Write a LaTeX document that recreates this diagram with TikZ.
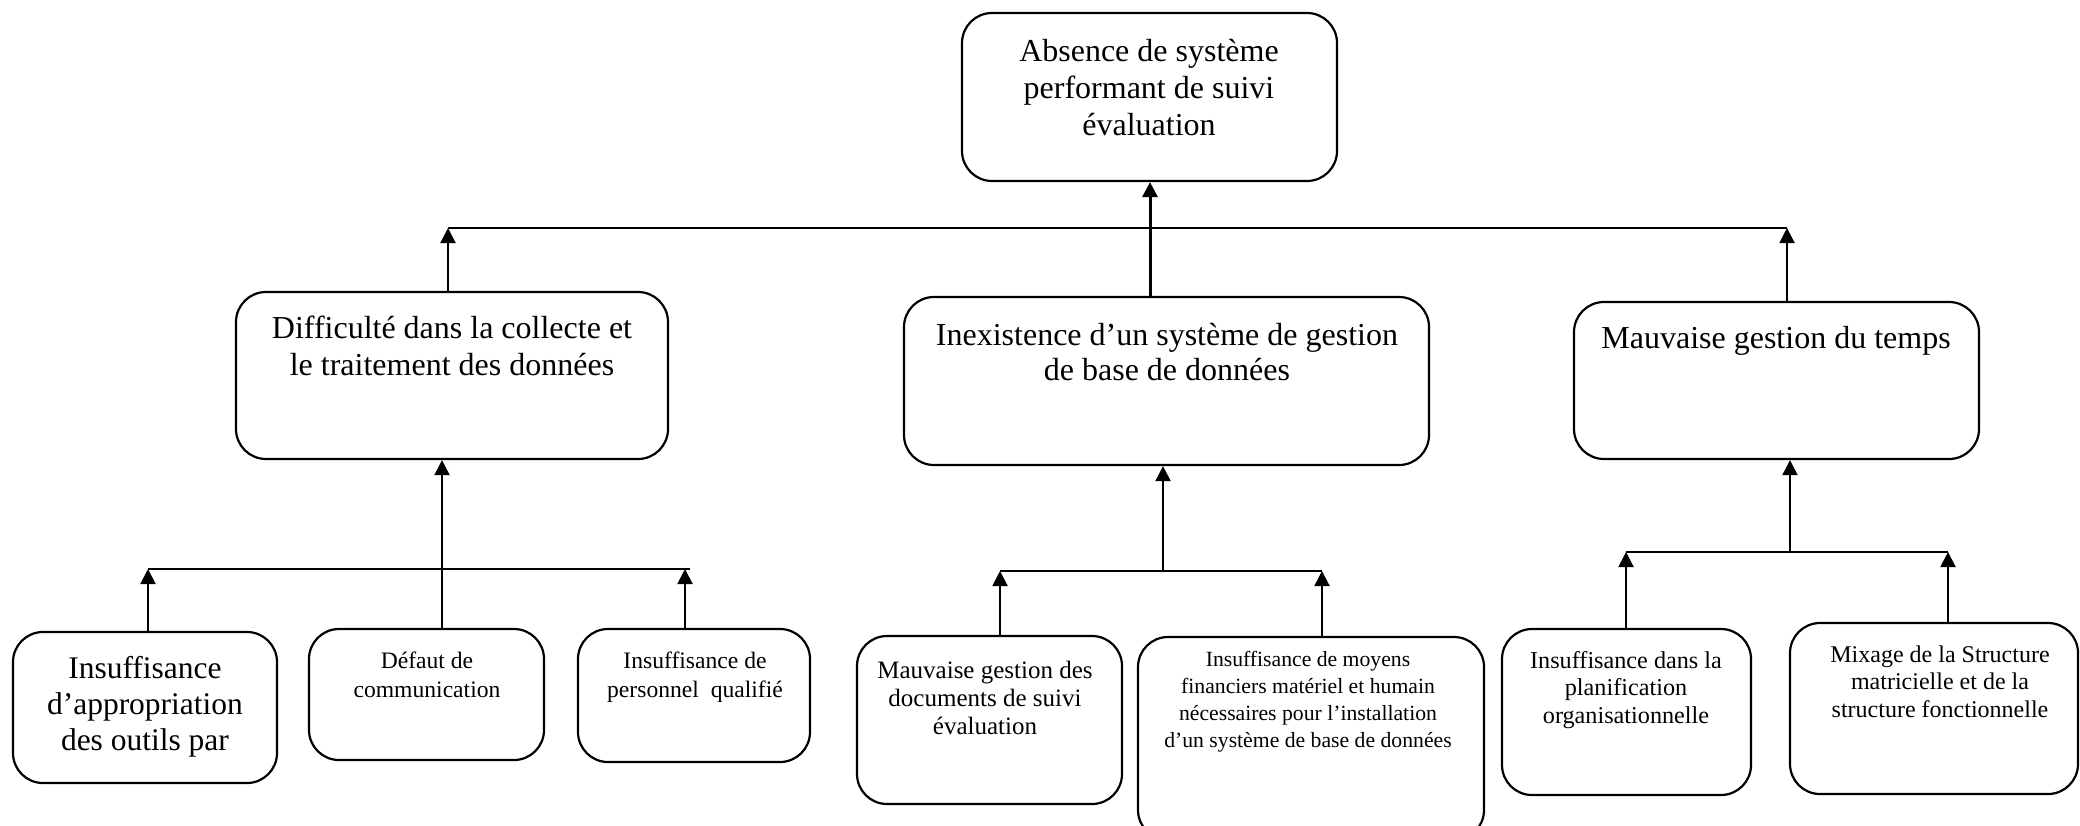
\documentclass[tikz,border=0pt]{standalone}
\usepackage{fontspec}
\setmainfont{Liberation Serif}
\usetikzlibrary{arrows.meta}

% centred block of lines whose first baseline is the node's base
\newcommand{\boxlines}[3]{\parbox[t]{320pt}{\centering\fontsize{#1}{#2}\selectfont #3}}

\tikzset{
  box/.style={draw, line width=1.1pt, rounded corners=15pt, inner sep=0pt},
  txt/.style={anchor=base, inner sep=0pt},
  link/.style={line width=1pt},
  arr/.style={line width=1pt, -{Triangle[length=7.5pt,width=7.5pt]}},
}

\begin{document}
\begin{tikzpicture}[x=0.5pt, y=-0.5pt]
\useasboundingbox (0,0) rectangle (2080,825);
\clip (0,0) rectangle (2080,825);
\fill[white] (0,0) rectangle (2080,825);

% ---- boxes ----
\node[box, minimum width=187.5pt, minimum height=84pt]   (top)   at (1149.5,97)  {};
\node[box, minimum width=216pt,   minimum height=83.5pt] (dif)   at (452,375.5)  {};
\node[box, minimum width=262.5pt, minimum height=84pt]   (inex)  at (1166.5,381) {};
\node[box, minimum width=202.5pt, minimum height=78.5pt] (temps) at (1776.5,380.5) {};
\node[box, minimum width=132pt,   minimum height=75.5pt] (app)   at (145,707.5)  {};
\node[box, minimum width=117.5pt, minimum height=65.5pt] (def)   at (426.5,694.5) {};
\node[box, minimum width=116pt,   minimum height=66.5pt] (pers)  at (694,695.5)  {};
\node[box, minimum width=132.5pt, minimum height=84pt]   (doc)   at (989.5,720)  {};
\node[box, minimum width=173pt,   minimum height=101.5pt] (moy)  at (1311,738.5) {};
\node[box, minimum width=124.5pt, minimum height=83pt]   (plan)  at (1626.5,712) {};
\node[box, minimum width=144pt,   minimum height=85.5pt] (mix)   at (1934,708.5) {};

% ---- texts ----
\node[txt] (top-t)   at (1149,61)  {\boxlines{16pt}{18.5pt}{Absence de système\\performant de suivi\\évaluation}};
\node[txt] (dif-t)   at (452,338)  {\boxlines{16pt}{18.5pt}{Difficulté dans la collecte et\\le traitement des données}};
\node[txt] (inex-t)  at (1167,345) {\boxlines{16pt}{17.5pt}{Inexistence d’un système de gestion\\de base de données}};
\node[txt] (temps-t) at (1776,348) {\boxlines{16pt}{18.5pt}{Mauvaise gestion du temps}};
\node[txt] (app-t)   at (145,678)  {\boxlines{15.75pt}{18pt}{Insuffisance\\d’appropriation\\des outils par}};
\node[txt] (def-t)   at (427,668)  {\boxlines{11.8pt}{14.5pt}{Défaut de\\communication}};
\node[txt] (pers-t)  at (695,668)  {\boxlines{11.8pt}{14.5pt}{Insuffisance de\\personnel~ qualifié}};
\node[txt] (doc-t)   at (985,678)  {\boxlines{12.5pt}{14pt}{Mauvaise gestion des\\documents de suivi\\évaluation}};
\node[txt] (moy-t)   at (1308,666) {\boxlines{10.85pt}{13.5pt}{Insuffisance de moyens\\financiers matériel et humain\\nécessaires pour l’installation\\d’un système de base de données}};
\node[txt] (plan-t)  at (1626,668) {\boxlines{12.1pt}{13.75pt}{Insuffisance dans la\\planification\\organisationnelle}};
\node[txt] (mix-t)   at (1940,662) {\boxlines{12pt}{13.75pt}{Mixage de la Structure\\matricielle et de la\\structure fonctionnelle}};

% ---- top level connectors ----
\coordinate (busA-l) at (448,228);
\coordinate (busA-r) at (1787,228);
\coordinate (stemA)  at (1150,228);
\draw[link] (busA-l) -- (busA-r);
\draw[arr] (dif.north -| busA-l) -- (busA-l);
\draw[arr] (temps.north -| busA-r) -- (busA-r);
\draw[arr, line width=1.5pt] (inex.north -| stemA) -- (top.south -| stemA);

% ---- left group ----
\coordinate (busB-l) at (148,569);
\coordinate (busB-r) at (690,569);
\coordinate (busB-p) at (685,569);
\coordinate (busB-m) at (442,569);
\draw[link] (busB-l) -- (busB-r);
\draw[arr] (app.north -| busB-l) -- (busB-l);
\draw[arr] (pers.north -| busB-p) -- (busB-p);
\draw[arr] (def.north -| busB-m) -- (dif.south -| busB-m);

% ---- middle group ----
\coordinate (busC-l) at (1000,571);
\coordinate (busC-r) at (1322,571);
\coordinate (busC-m) at (1163,571);
\draw[link] (busC-l) -- (busC-r);
\draw[arr] (doc.north -| busC-l) -- (busC-l);
\draw[arr] (moy.north -| busC-r) -- (busC-r);
\draw[arr] (busC-m) -- (inex.south -| busC-m);

% ---- right group ----
\coordinate (busD-l) at (1626,552);
\coordinate (busD-r) at (1948,552);
\coordinate (busD-m) at (1790,552);
\draw[link] (busD-l) -- (busD-r);
\draw[arr] (plan.north -| busD-l) -- (busD-l);
\draw[arr] (mix.north -| busD-r) -- (busD-r);
\draw[arr] (busD-m) -- (temps.south -| busD-m);
\end{tikzpicture}
\end{document}
